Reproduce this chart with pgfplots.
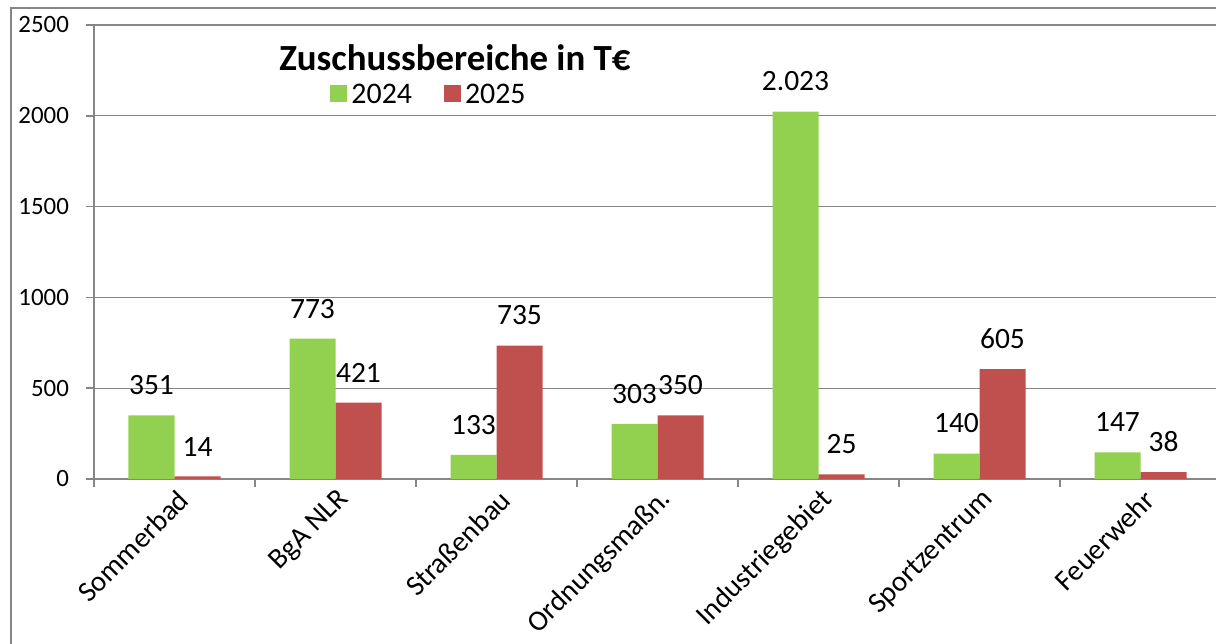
\documentclass[border=0pt]{standalone}
\usepackage{fontspec}
\setmainfont{Carlito}
\usepackage{pgfplots}
\pgfplotsset{compat=1.18}
\definecolor{cgreen}{HTML}{92D050}
\definecolor{cred}{HTML}{C0504D}
\definecolor{cgray}{HTML}{868686}
\begin{document}
\begin{tikzpicture}
\useasboundingbox (0,0) rectangle (608bp,322bp);
\draw[cgray,line width=0.8bp] (5.5bp,0) -- (5.5bp,318bp) -- (608bp,318bp);
\begin{axis}[
  at={(47bp,82.5bp)}, anchor=south west,
  scale only axis, width=561bp, height=227bp,
  xmin=-0.5, xmax=6.469, ymin=0, ymax=2500,
  axis x line*=bottom, axis y line*=left,
  axis line style={cgray,line width=0.8bp},
  ytick={0,500,...,2500},
  ymajorgrids, grid style={cgray,line width=0.6bp},
  tick align=outside, major tick length=4bp,
  tick style={cgray,line width=0.8bp},
  /pgf/number format/assume math mode=true,
  /pgf/number format/1000 sep={},
  yticklabel style={font=\fontsize{12.5}{15}\selectfont, xshift=-5bp},
  xtick={-0.5,0.5,...,5.5},
  xticklabels={},
  extra x ticks={0,1,2,3,4,5,6},
  extra x tick labels={Sommerbad,BgA NLR,Straßenbau,Ordnungsmaßn.,Industriegebiet,Sportzentrum,Feuerwehr},
  extra x tick style={major tick length=0pt, xticklabel style={rotate=45, anchor=east, font=\fontsize{14.5}{17}\selectfont, yshift=-9bp, xshift=1bp}},
  ybar=0pt, bar width=23bp,
  nodes near coords={\pgfmathprintnumber[1000 sep={.}]{\pgfplotspointmeta}},
  every node near coord/.append style={font=\fontsize{14.8}{17}\selectfont, text=black, inner sep=0pt, anchor=south, yshift=10bp},
  legend columns=2,
  legend style={at={(rel axis cs:0.2995,0.846)}, anchor=center, draw=none, fill=none,
    font=\fontsize{15}{18}\selectfont,
    /tikz/every even column/.append style={column sep=14bp}},
  legend image code/.code={\fill[#1] (0bp,-3.5bp) rectangle (8.5bp,5bp);},
  clip=false,
]
\addplot[fill=cgreen, draw=none] coordinates {(0,351) (1,773) (2,133) (3,303) (4,2023) (5,140) (6,147)};
\addplot[fill=cred, draw=none] coordinates {(0,14) (1,421) (2,735) (3,350) (4,25) (5,605) (6,38)};
\legend{2024,2025}
\node[font=\bfseries\fontsize{18.5}{21}\selectfont, anchor=base] at (rel axis cs:0.3217,0.899) {Zuschussbereiche in T€};
\end{axis}
\end{tikzpicture}
\end{document}
